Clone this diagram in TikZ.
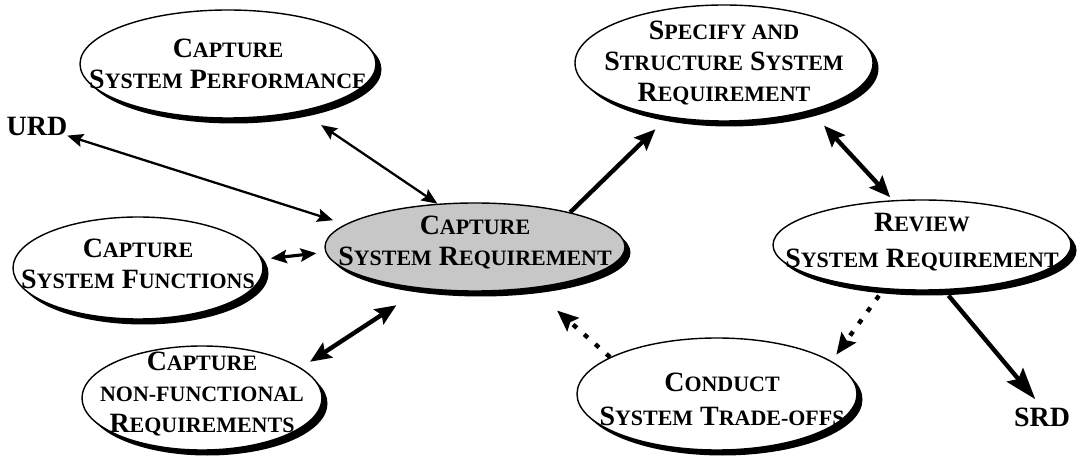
\documentclass[tikz,border=0pt]{standalone}
\usepackage{fontspec}
\setmainfont{Liberation Serif}
\usepackage{tikz}
\usetikzlibrary{arrows.meta}
\usetikzlibrary{shapes.geometric}
\usetikzlibrary{shadows}
\usetikzlibrary{positioning}
\tikzset{bubble/.style={ellipse,draw,line width=0.8pt,fill=white,inner sep=0pt,
                        drop shadow={shadow xshift=0.11cm,shadow yshift=-0.11cm,
                                     fill=black,opacity=1}}}
\tikzset{bubbletext/.style={font=\bfseries\fontsize{15.9}{17.6}\selectfont,
                            align=center,inner sep=0pt}}
% smaller capitals after the initial letter
\newcommand{\lowcaps}[1]{{\fontsize{12.5}{17.6}\selectfont #1}}

\begin{document}
\begin{tikzpicture}
    \tikzstyle{link}=[<->,line width=1.3pt,>={Stealth[length=9pt,width=7.5pt,inset=1.5pt]}]
    \tikzstyle{heavy}=[line width=2.5pt,>={Stealth[length=12pt,width=10pt,inset=2pt]}]
    \tikzstyle{hint}=[heavy,line cap=butt,dash pattern=on 2.8pt off 5.6pt]
    \useasboundingbox (0,0) rectangle (21.54,9.18);

    % activities
    \foreach \n/\x/\y/\w/\h in {perf/4.56/7.90/5.92/2.16, spec/14.48/7.92/5.96/2.32,
                               func/2.76/3.82/5.00/2.04, nonf/4.04/1.22/4.80/2.08,
                               review/18.44/4.28/5.96/1.80, conduct/14.34/1.30/5.60/2.24}{%
          \node[bubble,minimum width=\w cm,minimum height=\h cm] (\n) at (\x,\y) {};
    }
    \node[bubble,fill=black!22,minimum width=6cm,minimum height=1.76cm] (csr) at (9.50,4.24) {};

    \node[bubbletext] (perftxt) at (perf) {C\lowcaps{APTURE}\\S\lowcaps{YSTEM} P\lowcaps{ERFORMANCE}};
    \node[bubbletext] (spectxt) at (spec) {S\lowcaps{PECIFY AND}\\S\lowcaps{TRUCTURE} S\lowcaps{YSTEM}\\R\lowcaps{EQUIREMENT}};
    \node[bubbletext,yshift=0.08cm] (functxt) at (func) {C\lowcaps{APTURE}\\S\lowcaps{YSTEM} F\lowcaps{UNCTIONS}};
    \node[bubbletext,yshift=0.08cm] (nonftxt) at (nonf) {C\lowcaps{APTURE}\\\lowcaps{NON-FUNCTIONAL}\\R\lowcaps{EQUIREMENTS}};
    \node[bubbletext,yshift=0.05cm] (reviewtxt) at (review) {R\lowcaps{EVIEW}\\[3pt]S\lowcaps{YSTEM} R\lowcaps{EQUIREMENT}};
    \node[bubbletext,xshift=0.1cm,yshift=-0.11cm] (conducttxt) at (conduct) {C\lowcaps{ONDUCT}\\[2pt]S\lowcaps{YSTEM} T\lowcaps{RADE-OFFS}};
    \node[bubbletext,yshift=0.09cm] (csrtxt) at (csr) {C\lowcaps{APTURE}\\S\lowcaps{YSTEM} R\lowcaps{EQUIREMENT}};

    % Documents
    \node[bubbletext] (urd) at (0.74,6.66) {URD};
    \node[bubbletext] (srd) at (20.84,0.84) {SRD};

    \draw[link,shorten >=0.26cm] (urd) -- (csr.170);
    \draw[link,shorten <=0.48cm] (perf.-33) -- (csr.131);
    \draw[link,line width=1.8pt,shorten <=0.18cm,shorten >=0.18cm] (func.4) -- (csr.182);
    \draw[heavy,<->,shorten <=0.22cm,shorten >=0.6cm] (nonf.17) -- (csr.218);
    \draw[heavy,->,shorten >=0.34cm] (csr.20) -- (spec.224);
    \draw[heavy,<->,shorten <=0.4cm,shorten >=0.08cm] (spec.-29) -- (review.123);
    \draw[heavy,->,>={Stealth[length=18pt,width=12pt,inset=3pt]},
          shorten <=0.14cm,shorten >=0.21cm] (review.-64) -- (srd.north);
    \draw[hint,->,shorten <=0.16cm,shorten >=0.16cm] (review.229) -- (conduct.16);
    \draw[hint,->,shorten >=0.67cm] (conduct.161) -- (csr.-36);
\end{tikzpicture}
\end{document}
